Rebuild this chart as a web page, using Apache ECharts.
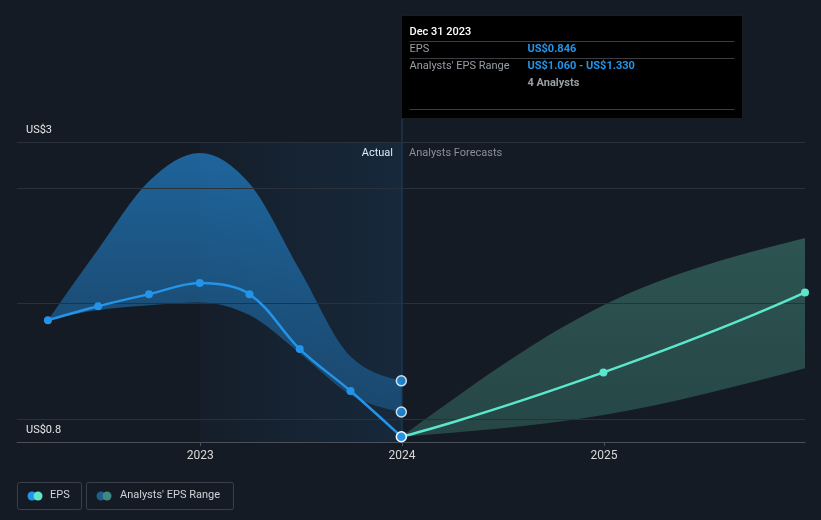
<!DOCTYPE html>
<html>
<head>
<meta charset="utf-8">
<script src="https://cdn.jsdelivr.net/npm/echarts@6/dist/echarts.min.js"></script>
<style>
html,body{margin:0;padding:0;background:#151b24;}
#c{width:821px;height:520px;}
</style>
</head>
<body>
<div id="c"></div>
<script>
// ---- data ----
const pastDates = ['2022-03-31','2022-06-30','2022-09-30','2022-12-31','2023-03-31','2023-06-30','2023-09-30','2023-12-31'];
const pastEps   = [1.856, 1.977, 2.081, 2.177, 2.081, 1.605, 1.242, 0.846];
const pastLow   = [1.856, 1.943, 1.986, 2.010, 1.900, 1.570, 1.210, 1.060];
const pastHigh  = [1.856, 2.470, 3.060, 3.305, 3.040, 2.290, 1.540, 1.330];

const fcDates = ['2023-12-31','2024-12-31','2025-12-31'];
const fcEps   = [0.846, 1.403, 2.096];
const fcLow   = [0.846, 1.034, 1.440];
const fcHigh  = [0.846, 1.986, 2.569];

const rangeDate = '2023-12-31';
const rangeVals = [1.330, 1.060];

const gridValues = [1, 2, 3, 3.4];
const yTopLabel = 'US$3';
const yBottomLabel = 'US$0.8';
const actualStart = '2023-01-01';
const actualEnd = '2023-12-31';
const xMin = '2022-02-03';
const xMax = '2025-12-31';

const tipTitle = 'Dec 31 2023';
const tipEps = 'US$0.846';
const tipRange = 'US$1.060 - US$1.330';
const tipAnalysts = '4 Analysts';

// ---- styles ----
const BLUE = '#2394e8';
const TEAL = '#5ce6cc';
const FONT = 'Roboto';

// monotone-x cubic (Fritsch–Carlson) bezier segments through pixel points
function monoSegments(pts) {
  const n = pts.length;
  const t = new Array(n).fill(0);
  const s = [], h = [];
  for (let i = 0; i < n - 1; i++) {
    h[i] = pts[i + 1][0] - pts[i][0];
    s[i] = h[i] ? (pts[i + 1][1] - pts[i][1]) / h[i] : 0;
  }
  for (let i = 1; i < n - 1; i++) {
    const s0 = s[i - 1], s1 = s[i], h0 = h[i - 1], h1 = h[i];
    const p = (s0 * h1 + s1 * h0) / (h0 + h1);
    t[i] = (Math.sign(s0) + Math.sign(s1)) * Math.min(Math.abs(s0), Math.abs(s1), 0.5 * Math.abs(p)) || 0;
  }
  if (n > 2) {
    t[0] = (3 * s[0] - t[1]) / 2;
    t[n - 1] = (3 * s[n - 2] - t[n - 2]) / 2;
  } else if (n === 2) {
    t[0] = t[1] = s[0];
  }
  const segs = [];
  for (let i = 0; i < n - 1; i++) {
    const dx = h[i] / 3;
    segs.push([
      [pts[i][0] + dx, pts[i][1] + dx * t[i]],
      [pts[i + 1][0] - dx, pts[i + 1][1] - dx * t[i + 1]],
      pts[i + 1]
    ]);
  }
  return segs;
}

function bandPath(api, dates, lows, highs) {
  const up = dates.map((d, i) => api.coord([echarts.number.parseDate(d).getTime(), highs[i]]));
  const lo = dates.map((d, i) => api.coord([echarts.number.parseDate(d).getTime(), lows[i]]));
  let path = 'M' + up[0][0] + ',' + up[0][1];
  monoSegments(up).forEach(sg => {
    path += 'C' + sg[0][0] + ',' + sg[0][1] + ',' + sg[1][0] + ',' + sg[1][1] + ',' + sg[2][0] + ',' + sg[2][1];
  });
  const loRev = lo.slice().reverse();
  path += 'L' + loRev[0][0] + ',' + loRev[0][1];
  monoSegments(loRev.map(p => [-p[0], p[1]])).forEach(sg => {
    path += 'C' + (-sg[0][0]) + ',' + sg[0][1] + ',' + (-sg[1][0]) + ',' + sg[1][1] + ',' + (-sg[2][0]) + ',' + sg[2][1];
  });
  return path + 'Z';
}

function bandSeries(name, dates, lows, highs, fill, z) {
  return {
    name: name, type: 'custom', silent: true, z: z,
    data: dates.map((d, i) => [d, lows[i], highs[i]]),
    encode: {x: 0, y: [1, 2]},
    renderItem: function (params, api) {
      if (params.dataIndex !== 0) return null;
      return {
        type: 'path',
        shape: {pathData: bandPath(api, dates, lows, highs)},
        style: {fill: fill}
      };
    }
  };
}

const chart = echarts.init(document.getElementById('c'), null, {renderer: 'canvas'});

const option = {
  backgroundColor: '#151b24',
  animation: false,
  grid: {left: 17, right: 16, top: 142, bottom: 78, containLabel: false},
  xAxis: {
    type: 'time',
    min: xMin, max: xMax,
    splitNumber: 4,
    axisLine: {show: true, lineStyle: {color: '#4a505a', width: 1}},
    axisTick: {show: true, length: 4, lineStyle: {color: '#4a505a'}},
    axisLabel: {color: '#d8d8d8', fontSize: 12, fontFamily: FONT, margin: 8, formatter: '{yyyy}'},
    splitLine: {show: false}
  },
  yAxis: {
    type: 'value', min: 0.8, max: 3.4,
    axisLine: {show: false}, axisTick: {show: false},
    axisLabel: {show: false}, splitLine: {show: false}
  },
  series: [
    bandSeries('pastRange', pastDates, pastLow, pastHigh,
      new echarts.graphic.LinearGradient(0, 0, 0, 1, [
        {offset: 0, color: 'rgba(35,140,220,0.64)'},
        {offset: 1, color: 'rgba(35,140,220,0.32)'}
      ]), 2),
    bandSeries('fcRange', fcDates, fcLow, fcHigh,
      new echarts.graphic.LinearGradient(0, 0, 0, 1, [
        {offset: 0, color: 'rgba(80,170,150,0.40)'},
        {offset: 1, color: 'rgba(80,170,150,0.30)'}
      ]), 2),
    {
      name: 'EPS', type: 'line', smooth: 0.35,
      data: pastDates.map((d, i) => {
        const item = {value: [d, pastEps[i]]};
        if (i === pastDates.length - 1) {
          item.symbolSize = 10;
          item.itemStyle = {color: BLUE, borderColor: '#ffffff', borderWidth: 1.5};
        }
        return item;
      }),
      symbol: 'circle', symbolSize: 8,
      itemStyle: {color: BLUE, borderWidth: 0},
      lineStyle: {color: BLUE, width: 2.5},
      z: 6,
      markLine: {
        silent: true, symbol: 'none', label: {show: false}, z: 3,
        lineStyle: {color: '#2b313a', type: 'solid', width: 1},
        data: gridValues.map(v => ({yAxis: v}))
      },
      markArea: {
        silent: true, z: 1,
        itemStyle: {
          color: new echarts.graphic.LinearGradient(0, 0, 1, 0, [
            {offset: 0, color: 'rgba(30,110,180,0.04)'},
            {offset: 1, color: 'rgba(30,110,180,0.16)'}
          ])
        },
        data: [[{xAxis: actualStart}, {xAxis: actualEnd}]]
      }
    },
    {
      name: 'EPS forecast', type: 'line', smooth: 0.65,
      data: fcDates.map((d, i) => ({
        value: [d, fcEps[i]],
        symbolSize: i === 0 ? 0 : 8
      })),
      symbol: 'circle', symbolSize: 8,
      itemStyle: {color: TEAL},
      lineStyle: {color: TEAL, width: 2.5},
      z: 5
    },
    {
      name: 'range', type: 'scatter',
      data: rangeVals.map(v => [rangeDate, v]),
      symbol: 'circle', symbolSize: 10,
      itemStyle: {color: BLUE, borderColor: '#ffffff', borderWidth: 1.5},
      z: 7, silent: true
    }
  ],
  graphic: [
    // cursor line
    {type: 'line', z: 0, silent: true, shape: {x1: 402, y1: 16, x2: 402, y2: 442}, style: {stroke: '#1d4668', lineWidth: 1}},
    // y labels
    {type: 'text', left: 26, top: 125, style: {text: yTopLabel, fill: '#e6e6e6', font: '11px ' + FONT}},
    {type: 'text', left: 26, top: 425, style: {text: yBottomLabel, fill: '#e6e6e6', font: '11px ' + FONT}},
    // Actual / Forecast labels
    {type: 'text', right: 821 - 393, top: 148, style: {text: 'Actual', fill: '#ffffff', font: '11px ' + FONT, align: 'right'}},
    {type: 'text', left: 409, top: 148, style: {text: 'Analysts Forecasts', fill: '#8b9098', font: '11px ' + FONT}},
    // tooltip box
    {type: 'group', left: 401, top: 15, z: 100, children: [
      {type: 'rect', shape: {x: 0, y: 0, width: 341, height: 103}, style: {fill: '#000000', stroke: '#1a1d22', lineWidth: 1}},
      {type: 'text', x: 8, y: 11, style: {text: tipTitle, fill: '#ffffff', font: '500 11px ' + FONT}},
      {type: 'line', shape: {x1: 8, y1: 26, x2: 333, y2: 26}, style: {stroke: '#3a3d42', lineWidth: 1}},
      {type: 'text', x: 8, y: 28, style: {text: 'EPS', fill: '#9a9ea5', font: '11px ' + FONT}},
      {type: 'text', x: 126, y: 28, style: {text: tipEps, fill: BLUE, font: 'bold 11px ' + FONT}},
      {type: 'line', shape: {x1: 8, y1: 43, x2: 333, y2: 43}, style: {stroke: '#3a3d42', lineWidth: 1}},
      {type: 'text', x: 8, y: 45, style: {text: "Analysts' EPS Range", fill: '#9a9ea5', font: '11px ' + FONT}},
      {type: 'text', x: 126, y: 45, style: {text: tipRange, fill: BLUE, font: 'bold 11px ' + FONT}},
      {type: 'text', x: 126, y: 62, style: {text: tipAnalysts, fill: '#9a9ea5', font: 'bold 11px ' + FONT}},
      {type: 'line', shape: {x1: 8, y1: 94, x2: 333, y2: 94}, style: {stroke: '#3a3d42', lineWidth: 1}}
    ]},
    // legend
    {type: 'group', left: 17, top: 482, children: [
      {type: 'rect', shape: {x: 0.5, y: 0.5, width: 64, height: 27, r: 2}, style: {fill: 'transparent', stroke: '#3a404a', lineWidth: 1}},
      {type: 'circle', shape: {cx: 15, cy: 14, r: 4.5}, style: {fill: BLUE}},
      {type: 'circle', shape: {cx: 21, cy: 14, r: 4.5}, style: {fill: TEAL}},
      {type: 'text', x: 33, y: 8, style: {text: 'EPS', fill: '#d0d3d8', font: '11px ' + FONT}}
    ]},
    {type: 'group', left: 86, top: 482, children: [
      {type: 'rect', shape: {x: 0.5, y: 0.5, width: 147, height: 27, r: 2}, style: {fill: 'transparent', stroke: '#3a404a', lineWidth: 1}},
      {type: 'circle', shape: {cx: 15, cy: 14, r: 4.5}, style: {fill: '#1f5d8c'}},
      {type: 'circle', shape: {cx: 21, cy: 14, r: 4.5}, style: {fill: '#3f8a80'}},
      {type: 'text', x: 34, y: 8, style: {text: "Analysts' EPS Range", fill: '#d0d3d8', font: '11px ' + FONT}}
    ]}
  ]
};
chart.setOption(option);
</script>
</body>
</html>
